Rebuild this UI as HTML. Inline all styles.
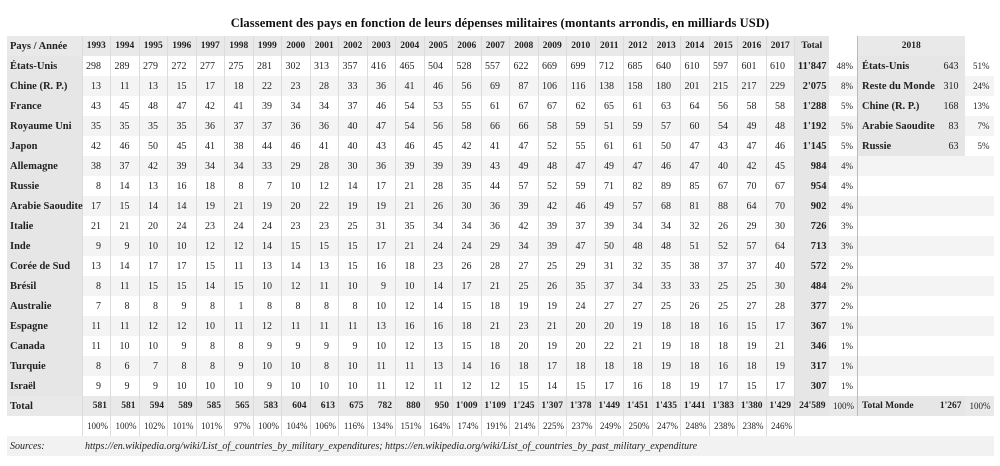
<!DOCTYPE html>
<html><head><meta charset="utf-8"><style>
body{margin:0;width:1000px;height:466px;background:#fff;font-family:"Liberation Serif",serif;color:#222;position:relative;overflow:hidden}
.t{position:absolute;left:0;width:1000px;top:16px;text-align:center;font-size:12.5px;font-weight:bold;letter-spacing:0.1px;color:#111}
table{position:absolute;left:7px;top:36px;width:986.5px;border-collapse:collapse;table-layout:fixed;font-size:10px}
td{height:20px;padding:0;white-space:nowrap;text-align:right;padding-right:9px;border-left:1px solid #dcdcdc;box-sizing:border-box;overflow:visible}
td:first-child{text-align:left;padding-left:3px;font-weight:bold;background:#e6e6e6;border-left:none;font-size:10.5px}
tr.h td{background:#e9e9e9;font-weight:bold;text-align:center;padding:0;font-size:9.5px}
tr.h td:first-child{text-align:left;padding-left:3px;font-size:10.5px}
tr.g td{background:#f4f4f4}
tr.g td:first-child{background:#e6e6e6}
td.tt{background:#e6e6e6 !important;font-weight:bold;padding-right:2px;font-size:10.5px}
td.p{padding-right:4px;font-size:9px;border-left:none}
td.n{text-align:left;padding-left:4px;font-weight:bold;background:#e6e6e6 !important;border-left:1px solid #bbb;font-size:10.5px}
td.v{background:#e6e6e6 !important;padding-right:6px;border-left:none}
td.e{border-left:1px solid #bbb}
td.e2{border-left:none}
tr.tot td{background:#e9e9e9;font-weight:bold;padding-right:3px;font-size:9.5px}
tr.tot td:first-child{font-size:10.5px}
tr.tot td.p{font-weight:normal;font-size:9px}
tr.pc td{font-size:9px;padding-right:2px}
tr.pc td:first-child{background:#fff}
tr.src td{background:#f2f2f2;border-left:none;font-style:italic;text-align:left;font-weight:normal;font-size:10px}
tr.src td:first-child{background:#f2f2f2;font-weight:normal}
</style></head><body>
<div class="t">Classement des pays en fonction de leurs dépenses militaires (montants arrondis, en milliards USD)</div>
<table>
<colgroup><col style="width:75px"><col span="25" style="width:28.5px"><col style="width:34px"><col style="width:29px"><col style="width:78px"><col style="width:29px"><col style="width:29px"></colgroup>
<tr class="h"><td>Pays / Année</td><td>1993</td><td>1994</td><td>1995</td><td>1996</td><td>1997</td><td>1998</td><td>1999</td><td>2000</td><td>2001</td><td>2002</td><td>2003</td><td>2004</td><td>2005</td><td>2006</td><td>2007</td><td>2008</td><td>2009</td><td>2010</td><td>2011</td><td>2012</td><td>2013</td><td>2014</td><td>2015</td><td>2016</td><td>2017</td><td class="tt" style="text-align:center">Total</td><td style="background:#fff;border-left:none"></td><td colspan="2" style="border-left:1px solid #bbb">2018</td><td style="background:#fff;border-left:none"></td></tr>
<tr><td>États-Unis</td><td>298</td><td>289</td><td>279</td><td>272</td><td>277</td><td>275</td><td>281</td><td>302</td><td>313</td><td>357</td><td>416</td><td>465</td><td>504</td><td>528</td><td>557</td><td>622</td><td>669</td><td>699</td><td>712</td><td>685</td><td>640</td><td>610</td><td>597</td><td>601</td><td>610</td><td class="tt">11'847</td><td class="p">48%</td><td class="n">États-Unis</td><td class="v">643</td><td class="p">51%</td></tr>
<tr class="g"><td>Chine (R. P.)</td><td>13</td><td>11</td><td>13</td><td>15</td><td>17</td><td>18</td><td>22</td><td>23</td><td>28</td><td>33</td><td>36</td><td>41</td><td>46</td><td>56</td><td>69</td><td>87</td><td>106</td><td>116</td><td>138</td><td>158</td><td>180</td><td>201</td><td>215</td><td>217</td><td>229</td><td class="tt">2'075</td><td class="p">8%</td><td class="n">Reste du Monde</td><td class="v">310</td><td class="p">24%</td></tr>
<tr><td>France</td><td>43</td><td>45</td><td>48</td><td>47</td><td>42</td><td>41</td><td>39</td><td>34</td><td>34</td><td>37</td><td>46</td><td>54</td><td>53</td><td>55</td><td>61</td><td>67</td><td>67</td><td>62</td><td>65</td><td>61</td><td>63</td><td>64</td><td>56</td><td>58</td><td>58</td><td class="tt">1'288</td><td class="p">5%</td><td class="n">Chine (R. P.)</td><td class="v">168</td><td class="p">13%</td></tr>
<tr class="g"><td>Royaume Uni</td><td>35</td><td>35</td><td>35</td><td>35</td><td>36</td><td>37</td><td>37</td><td>36</td><td>36</td><td>40</td><td>47</td><td>54</td><td>56</td><td>58</td><td>66</td><td>66</td><td>58</td><td>59</td><td>51</td><td>59</td><td>57</td><td>60</td><td>54</td><td>49</td><td>48</td><td class="tt">1'192</td><td class="p">5%</td><td class="n">Arabie Saoudite</td><td class="v">83</td><td class="p">7%</td></tr>
<tr><td>Japon</td><td>42</td><td>46</td><td>50</td><td>45</td><td>41</td><td>38</td><td>44</td><td>46</td><td>41</td><td>40</td><td>43</td><td>46</td><td>45</td><td>42</td><td>41</td><td>47</td><td>52</td><td>55</td><td>61</td><td>61</td><td>50</td><td>47</td><td>43</td><td>47</td><td>46</td><td class="tt">1'145</td><td class="p">5%</td><td class="n">Russie</td><td class="v">63</td><td class="p">5%</td></tr>
<tr class="g"><td>Allemagne</td><td>38</td><td>37</td><td>42</td><td>39</td><td>34</td><td>34</td><td>33</td><td>29</td><td>28</td><td>30</td><td>36</td><td>39</td><td>39</td><td>39</td><td>43</td><td>49</td><td>48</td><td>47</td><td>49</td><td>47</td><td>46</td><td>47</td><td>40</td><td>42</td><td>45</td><td class="tt">984</td><td class="p">4%</td><td class="e"></td><td class="e2"></td><td class="e2"></td></tr>
<tr><td>Russie</td><td>8</td><td>14</td><td>13</td><td>16</td><td>18</td><td>8</td><td>7</td><td>10</td><td>12</td><td>14</td><td>17</td><td>21</td><td>28</td><td>35</td><td>44</td><td>57</td><td>52</td><td>59</td><td>71</td><td>82</td><td>89</td><td>85</td><td>67</td><td>70</td><td>67</td><td class="tt">954</td><td class="p">4%</td><td class="e"></td><td class="e2"></td><td class="e2"></td></tr>
<tr class="g"><td>Arabie Saoudite</td><td>17</td><td>15</td><td>14</td><td>14</td><td>19</td><td>21</td><td>19</td><td>20</td><td>22</td><td>19</td><td>19</td><td>21</td><td>26</td><td>30</td><td>36</td><td>39</td><td>42</td><td>46</td><td>49</td><td>57</td><td>68</td><td>81</td><td>88</td><td>64</td><td>70</td><td class="tt">902</td><td class="p">4%</td><td class="e"></td><td class="e2"></td><td class="e2"></td></tr>
<tr><td>Italie</td><td>21</td><td>21</td><td>20</td><td>24</td><td>23</td><td>24</td><td>24</td><td>23</td><td>23</td><td>25</td><td>31</td><td>35</td><td>34</td><td>34</td><td>36</td><td>42</td><td>39</td><td>37</td><td>39</td><td>34</td><td>34</td><td>32</td><td>26</td><td>29</td><td>30</td><td class="tt">726</td><td class="p">3%</td><td class="e"></td><td class="e2"></td><td class="e2"></td></tr>
<tr class="g"><td>Inde</td><td>9</td><td>9</td><td>10</td><td>10</td><td>12</td><td>12</td><td>14</td><td>15</td><td>15</td><td>15</td><td>17</td><td>21</td><td>24</td><td>24</td><td>29</td><td>34</td><td>39</td><td>47</td><td>50</td><td>48</td><td>48</td><td>51</td><td>52</td><td>57</td><td>64</td><td class="tt">713</td><td class="p">3%</td><td class="e"></td><td class="e2"></td><td class="e2"></td></tr>
<tr><td>Corée de Sud</td><td>13</td><td>14</td><td>17</td><td>17</td><td>15</td><td>11</td><td>13</td><td>14</td><td>13</td><td>15</td><td>16</td><td>18</td><td>23</td><td>26</td><td>28</td><td>27</td><td>25</td><td>29</td><td>31</td><td>32</td><td>35</td><td>38</td><td>37</td><td>37</td><td>40</td><td class="tt">572</td><td class="p">2%</td><td class="e"></td><td class="e2"></td><td class="e2"></td></tr>
<tr class="g"><td>Brésil</td><td>8</td><td>11</td><td>15</td><td>15</td><td>14</td><td>15</td><td>10</td><td>12</td><td>11</td><td>10</td><td>9</td><td>10</td><td>14</td><td>17</td><td>21</td><td>25</td><td>26</td><td>35</td><td>37</td><td>34</td><td>33</td><td>33</td><td>25</td><td>25</td><td>30</td><td class="tt">484</td><td class="p">2%</td><td class="e"></td><td class="e2"></td><td class="e2"></td></tr>
<tr><td>Australie</td><td>7</td><td>8</td><td>8</td><td>9</td><td>8</td><td>1</td><td>8</td><td>8</td><td>8</td><td>8</td><td>10</td><td>12</td><td>14</td><td>15</td><td>18</td><td>19</td><td>19</td><td>24</td><td>27</td><td>27</td><td>25</td><td>26</td><td>25</td><td>27</td><td>28</td><td class="tt">377</td><td class="p">2%</td><td class="e"></td><td class="e2"></td><td class="e2"></td></tr>
<tr class="g"><td>Espagne</td><td>11</td><td>11</td><td>12</td><td>12</td><td>10</td><td>11</td><td>12</td><td>11</td><td>11</td><td>11</td><td>13</td><td>16</td><td>16</td><td>18</td><td>21</td><td>23</td><td>21</td><td>20</td><td>20</td><td>19</td><td>18</td><td>18</td><td>16</td><td>15</td><td>17</td><td class="tt">367</td><td class="p">1%</td><td class="e"></td><td class="e2"></td><td class="e2"></td></tr>
<tr><td>Canada</td><td>11</td><td>10</td><td>10</td><td>9</td><td>8</td><td>8</td><td>9</td><td>9</td><td>9</td><td>9</td><td>10</td><td>12</td><td>13</td><td>15</td><td>18</td><td>20</td><td>19</td><td>20</td><td>22</td><td>21</td><td>19</td><td>18</td><td>18</td><td>19</td><td>21</td><td class="tt">346</td><td class="p">1%</td><td class="e"></td><td class="e2"></td><td class="e2"></td></tr>
<tr class="g"><td>Turquie</td><td>8</td><td>6</td><td>7</td><td>8</td><td>8</td><td>9</td><td>10</td><td>10</td><td>8</td><td>10</td><td>11</td><td>11</td><td>13</td><td>14</td><td>16</td><td>18</td><td>17</td><td>18</td><td>18</td><td>18</td><td>19</td><td>18</td><td>16</td><td>18</td><td>19</td><td class="tt">317</td><td class="p">1%</td><td class="e"></td><td class="e2"></td><td class="e2"></td></tr>
<tr><td>Israël</td><td>9</td><td>9</td><td>9</td><td>10</td><td>10</td><td>10</td><td>9</td><td>10</td><td>10</td><td>10</td><td>11</td><td>12</td><td>11</td><td>12</td><td>12</td><td>15</td><td>14</td><td>15</td><td>17</td><td>16</td><td>18</td><td>19</td><td>17</td><td>15</td><td>17</td><td class="tt">307</td><td class="p">1%</td><td class="e"></td><td class="e2"></td><td class="e2"></td></tr>
<tr class="tot"><td>Total</td><td>581</td><td>581</td><td>594</td><td>589</td><td>585</td><td>565</td><td>583</td><td>604</td><td>613</td><td>675</td><td>782</td><td>880</td><td>950</td><td>1'009</td><td>1'109</td><td>1'245</td><td>1'307</td><td>1'378</td><td>1'449</td><td>1'451</td><td>1'435</td><td>1'441</td><td>1'383</td><td>1'380</td><td>1'429</td><td class="tt">24'589</td><td class="p">100%</td><td class="n">Total Monde</td><td class="v">1'267</td><td class="p">100%</td></tr>
<tr class="pc"><td></td><td>100%</td><td>100%</td><td>102%</td><td>101%</td><td>101%</td><td>97%</td><td>100%</td><td>104%</td><td>106%</td><td>116%</td><td>134%</td><td>151%</td><td>164%</td><td>174%</td><td>191%</td><td>214%</td><td>225%</td><td>237%</td><td>249%</td><td>250%</td><td>247%</td><td>248%</td><td>238%</td><td>238%</td><td>246%</td><td></td><td style="border-left:none"></td><td style="border-left:none"></td><td style="border-left:none"></td><td style="border-left:none"></td></tr>
<tr class="src"><td style="font-style:italic">Sources:</td><td colspan="30" style="padding-left:3px">https://en.wikipedia.org/wiki/List_of_countries_by_military_expenditures; https://en.wikipedia.org/wiki/List_of_countries_by_past_military_expenditure</td></tr>
</table>
</body></html>
